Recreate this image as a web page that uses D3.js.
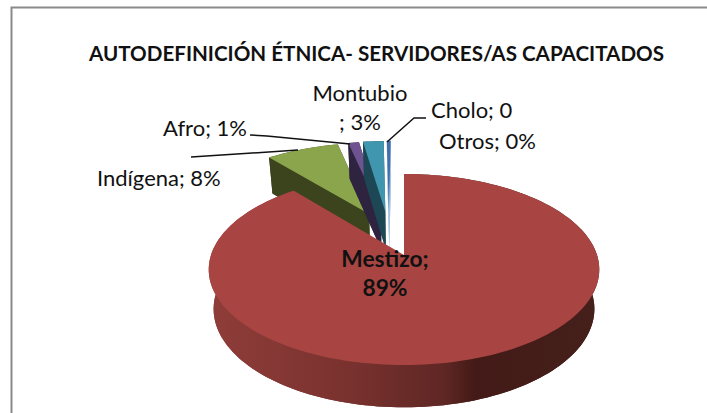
<!DOCTYPE html>
<html lang="es">
<head>
  <meta charset="UTF-8" />
  <title>Autodefinición étnica</title>
  <style>
    html, body {
      margin: 0;
      padding: 0;
      background: #fff;
      overflow: hidden;
    }
    text {
      font-family: Lato, "Open Sans", sans-serif;
      fill: #111;
    }
  </style>
</head>
<body>
  <svg id="viz" width="707" height="413"></svg>

  <script src="https://d3js.org/d3.v7.min.js"></script>
  <script>
    const titleText = "AUTODEFINICIÓN ÉTNICA- SERVIDORES/AS CAPACITADOS";
    const categories = ["Mestizo", "Indígena", "Afro", "Montubio", "Cholo", "Otros"];
    const values = [89, 7.4, 1.1, 2.1, 0.4, 0];
    const topColors = ["#a84542", "#8aa54b", "#6f5390", "#4096ae", "#3f6fae", "#e88a3c"];
    const sideColors = ["#6f2e2b", "#3b441d", "#2f2440", "#1d4754", "#a8c4e0", "#e88a3c"];

    const svg = d3.select("#viz");

    // frame: only top and left show in the picture
    svg.append("path")
      .attr("d", "M11.5,413V7.5H707")
      .attr("fill", "none")
      .attr("stroke", "#8a8a8a")
      .attr("stroke-width", 2);

    svg.append("text")
      .attr("x", 376.5)
      .attr("y", 61)
      .attr("text-anchor", "middle")
      .attr("font-weight", "bold")
      .attr("font-size", 20.6)
      .text(titleText);

    // pie plane -> screen, a small perspective so the back of the pie shrinks
    const cx = 404, cy = 255, R = 193, K = 93.3, persp = 0.152;
    const depth = 39, bottomX = 0.975, bottomY = 1.03;
    const explode = 0.51;

    function project(u, v, low) {
      const s = 1 / (1 + persp * v);
      if (!low) return [cx + R * u * s, cy - K * v * s];
      return [cx + R * u * s * bottomX, cy + depth - K * v * s * bottomY];
    }

    const pie = d3.pie().sort(null).startAngle(0).endAngle(2 * Math.PI);
    const slices = pie(values).map((d, i) => {
      // d3 angles run clockwise from 12 o'clock, shift so the small slices are negative
      const a0 = d.startAngle, a1 = d.endAngle;
      const mid = (a0 + a1) / 2 - 2 * Math.PI;
      const dir = -0.16 + 0.5 * mid;
      const off = i === 0 ? [0, 0] : [explode * Math.sin(dir), explode * Math.cos(dir)];
      return { i, a0, a1, off };
    });

    function ring(s, low) {
      const n = Math.max(2, Math.ceil((s.a1 - s.a0) / 0.03));
      return d3.range(n + 1).map(k => {
        const a = s.a0 + (s.a1 - s.a0) * k / n;
        return project(s.off[0] + Math.sin(a), s.off[1] + Math.cos(a), low);
      });
    }

    const line = d3.line();
    const defs = svg.append("defs");
    const grad = defs.append("linearGradient")
      .attr("id", "wall")
      .attr("gradientUnits", "userSpaceOnUse")
      .attr("x1", 210).attr("x2", 600).attr("y1", 0).attr("y2", 0);
    [[0, "#8f3d39"], [0.35, "#7a322f"], [0.6, "#5f2724"], [0.68, "#431a17"], [1, "#45201b"]]
      .forEach(d => grad.append("stop").attr("offset", d[0]).attr("stop-color", d[1]));

    function drawSlice(s) {
      if (s.a1 - s.a0 <= 0) return;
      const side = s.i === 0 ? "url(#wall)" : sideColors[s.i];
      const top = ring(s, false), low = ring(s, true);
      const apexTop = project(s.off[0], s.off[1], false);
      const apexLow = project(s.off[0], s.off[1], true);

      svg.append("path").attr("d", line([apexLow, ...low]) + "Z").attr("fill", side);
      // outer wall and the two cut walls
      svg.append("path").attr("d", line([...top, ...low.slice().reverse()]) + "Z").attr("fill", side);
      if (s.i !== 0) {
        [0, top.length - 1].forEach(k => {
          svg.append("path")
            .attr("d", line([apexTop, top[k], low[k], apexLow]) + "Z")
            .attr("fill", side);
        });
      }
      svg.append("path").attr("d", line([apexTop, ...top]) + "Z").attr("fill", topColors[s.i]);
    }

    // small slices first, the big one sits in front of them
    slices.slice(1).forEach(drawSlice);
    drawSlice(slices[0]);

    // leader lines
    [
      [[191, 157], [298, 150]],
      [[250, 135], [267, 136], [350, 144]],
      [[387, 142], [414, 118], [426, 118]]
    ].forEach(pts => {
      svg.append("path")
        .attr("d", line(pts))
        .attr("fill", "none")
        .attr("stroke", "#111")
        .attr("stroke-width", 1.5);
    });

    // data labels
    function label(txt, x, y, anchor, bold) {
      svg.append("text")
        .attr("x", x)
        .attr("y", y)
        .attr("text-anchor", anchor || "start")
        .attr("font-size", bold ? 22.8 : 22)
        .attr("font-weight", bold ? "bold" : "normal")
        .text(txt);
    }
    label(categories[0] + ";", 385, 267, "middle", true);
    label("89%", 385, 296, "middle", true);
    label(categories[1] + "; 8%", 97, 186);
    label(categories[2] + "; 1%", 163, 136);
    label(categories[3], 360, 101, "middle");
    label("; 3%", 360, 130, "middle");
    label(categories[4] + "; 0", 431, 118);
    label(categories[5] + "; 0%", 439, 149);
  </script>
</body>
</html>
